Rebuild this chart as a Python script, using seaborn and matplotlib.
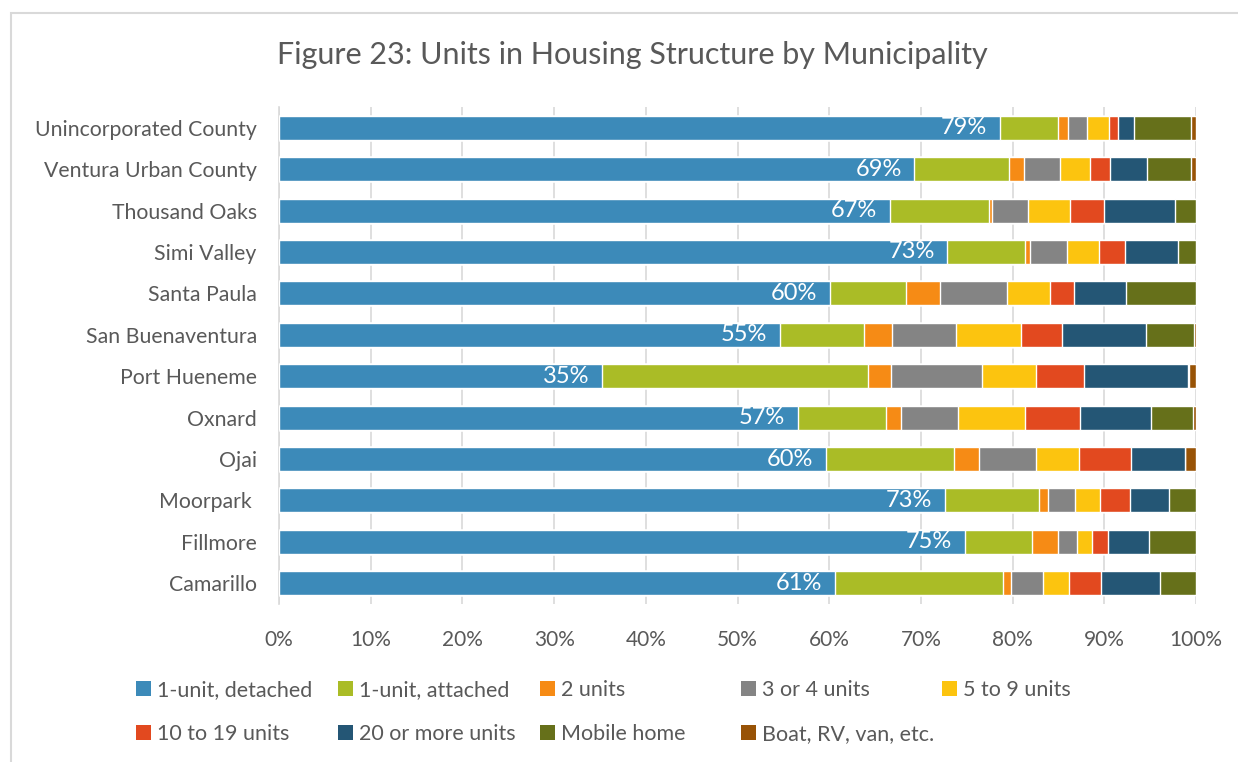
import matplotlib
matplotlib.use("Agg")
import matplotlib.pyplot as plt
from matplotlib.patches import Patch, Rectangle
import seaborn as sns
import pandas as pd
import numpy as np

# municipalities, top to bottom
municipalities = ["Unincorporated County", "Ventura Urban County", "Thousand Oaks", "Simi Valley",
                  "Santa Paula", "San Buenaventura", "Port Hueneme", "Oxnard", "Ojai",
                  "Moorpark ", "Fillmore", "Camarillo"]

categories = ["1-unit, detached", "1-unit, attached", "2 units", "3 or 4 units", "5 to 9 units",
              "10 to 19 units", "20 or more units", "Mobile home", "Boat, RV, van, etc."]

# shares (%), one list per category
detached = [78.6, 69.3, 66.6, 72.9, 60.1, 54.6, 35.2, 56.6, 59.6, 72.6, 74.8, 60.6]
attached = [6.4, 10.3, 10.8, 8.5, 8.3, 9.2, 29.0, 9.6, 14.0, 10.3, 7.3, 18.4]
two_units = [1.0, 1.6, 0.4, 0.5, 3.7, 3.0, 2.5, 1.6, 2.7, 1.0, 2.8, 0.8]
three_four = [2.1, 4.0, 3.9, 4.0, 7.3, 7.0, 10.0, 6.2, 6.2, 2.9, 2.1, 3.5]
five_nine = [2.4, 3.2, 4.6, 3.5, 4.7, 7.1, 5.9, 7.4, 4.7, 2.7, 1.7, 2.9]
ten_nineteen = [1.0, 2.2, 3.7, 2.9, 2.6, 4.5, 5.2, 6.0, 5.7, 3.3, 1.7, 3.4]
twenty_plus = [1.7, 4.1, 7.7, 5.7, 5.7, 9.2, 11.3, 7.7, 5.9, 4.3, 4.5, 6.5]
mobile = [6.3, 4.8, 2.3, 2.0, 7.6, 5.2, 0.1, 4.6, 0.0, 2.9, 5.1, 3.9]
boat = [0.5, 0.5, 0.0, 0.0, 0.0, 0.2, 0.8, 0.3, 1.2, 0.0, 0.0, 0.0]

colors = ["#3C8AB9", "#AABC26", "#F68B15", "#848484", "#FCC40F",
          "#E2491F", "#245675", "#66701A", "#985306"]

df = pd.DataFrame({"Municipality": municipalities})
for name, vals in zip(categories, [detached, attached, two_units, three_four, five_nine,
                                   ten_nineteen, twenty_plus, mobile, boat]):
    df[name] = vals

text_color = "#595959"
sns.set_theme(style="white")
plt.rcParams["font.family"] = ["Lato", "DejaVu Sans"]

fig = plt.figure(figsize=(12.38, 7.62), dpi=100)
ax = fig.add_axes([279 / 1238, 1 - 604 / 762, (1196 - 279) / 1238, (604 - 107) / 762])

# stacked bars: draw cumulative totals from the last category backwards
cum = df[categories].cumsum(axis=1)
for i in range(len(categories) - 1, -1, -1):
    sns.barplot(x=cum[categories[i]], y=df["Municipality"], order=municipalities,
                color=colors[i], saturation=1, width=0.58, orient="h", ax=ax, zorder=3)

# data labels for the detached share
for j, v in enumerate(detached):
    ax.text(v - 1.4, j, f"{round(v)}%", color="white", fontsize=17,
            ha="right", va="center", zorder=5)

ax.set_xlim(0, 100)
ax.set_xticks(np.arange(0, 101, 10))
ax.set_xticklabels([f"{t}%" for t in range(0, 101, 10)])
ax.xaxis.grid(True, color="#D9D9D9", linewidth=1.2, zorder=0)
ax.set_axisbelow(True)
ax.set_xlabel("")
ax.set_ylabel("")
for s in ["top", "right", "bottom"]:
    ax.spines[s].set_visible(False)
ax.spines["left"].set_color("#D9D9D9")
ax.spines["left"].set_linewidth(1.2)
ax.tick_params(axis="x", length=0, pad=19, labelsize=15, labelcolor=text_color)
ax.tick_params(axis="y", length=0, pad=16, labelsize=15.3, labelcolor=text_color)

fig.text(632 / 1238, 1 - 55 / 762, "Figure 23: Units in Housing Structure by Municipality",
         ha="center", va="center", fontsize=22, color=text_color)

# legend: one small legend per column so the columns are evenly spaced like the original
col_x = [137, 339, 541, 742, 943]
for c in range(5):
    idx = [c, c + 5] if c + 5 < len(categories) else [c]
    handles = [Patch(facecolor=colors[k], edgecolor="none") for k in idx]
    labels = [categories[k] for k in idx]
    leg = fig.legend(handles, labels, loc="upper left",
                     bbox_to_anchor=((col_x[c] - 10) / 1238, 1 - 671 / 762),
                     frameon=False, fontsize=15.5, handlelength=0.7, handleheight=0.7,
                     handletextpad=0.3, labelspacing=1.12, borderaxespad=0)
    for t in leg.get_texts():
        t.set_color(text_color)

# chart-area border (only left and top visible in the original)
fig.patches.append(Rectangle((11 / 1238, -0.1), 1.2, 1 - 13 / 762 + 0.1,
                             transform=fig.transFigure, fill=False,
                             edgecolor="#D9D9D9", linewidth=1.5))

fig.savefig("out.png", dpi=100)
